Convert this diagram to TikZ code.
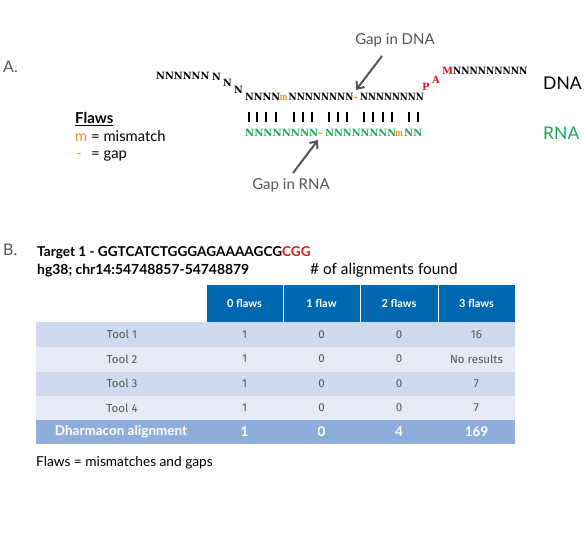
\documentclass[tikz,border=0pt]{standalone}
\usepackage{fontspec}
\usepackage{graphicx}
\setmainfont{Lato}
\newfontfamily\seqfont{DejaVu Serif}
\newfontfamily\tabfont{Fira Sans}
\usetikzlibrary{arrows.meta}
\definecolor{flawor}{RGB}{240,150,40}
\definecolor{rnagreen}{RGB}{25,170,90}
\definecolor{pamred}{RGB}{215,30,35}
\definecolor{txtgray}{RGB}{85,85,85}
\definecolor{arrgray}{RGB}{85,85,85}
\definecolor{hdrblue}{RGB}{0,103,177}
\definecolor{rowA}{RGB}{207,218,236}
\definecolor{rowB}{RGB}{229,234,245}
\definecolor{rowD}{RGB}{142,173,219}
\newcommand{\sqx}[2]{\scalebox{#1}[1]{#2}}
\tikzset{
  seq/.style={inner sep=0pt, anchor=base west, font=\seqfont\bfseries\fontsize{10}{10}\selectfont},
  lbl/.style={inner sep=0pt, anchor=base west},
  gaplbl/.style={inner sep=0pt, text=txtgray, font=\fontsize{15}{15}\selectfont},
  gaparrow/.style={draw=arrgray, line width=2pt, -{Straight Barb[length=6pt,width=10pt]}},
  pairbar/.style={line width=1.8pt, black},
  hdrcell/.style={fill=hdrblue, draw=white, line width=0.8pt},
  hdrtxt/.style={inner sep=0pt, text=white, font=\bfseries\fontsize{11}{11}\selectfont},
  celltxt/.style={inner sep=0pt, text=txtgray, font=\tabfont\fontsize{11.5}{11.5}\selectfont},
  dtxt/.style={inner sep=0pt, text=white, font=\bfseries\fontsize{13.5}{13.5}\selectfont},
}
\begin{document}
\begin{tikzpicture}[x=1pt,y=-1pt]
\useasboundingbox[fill=white] (0,0) rectangle (586,548);

% ---------- Part A ----------
\node[lbl, text=txtgray, font=\fontsize{16}{16}\selectfont] (labA) at (3,73) {A.};

% DNA strand
\node[seq] (d1) at (156,80) {\sqx{0.97}{NNNNNN}};
\node[seq] (d2) at (212,81) {\sqx{0.95}{N}};
\node[seq] (d3) at (223,87) {\sqx{0.95}{N}};
\node[seq] (d4) at (234,94) {\sqx{0.95}{N}};
\node[seq] (d5) at (245,101) {\sqx{0.955}{NNNN}};
\node[seq, text=flawor] (d6) at (279.5,101) {\sqx{0.75}{m}};
\node[seq] (d7) at (288.5,101) {\sqx{0.885}{NNNNNNNN}};
\node[seq, text=flawor] (d8) at (353,101) {–};
\node[seq] (d9) at (360,101) {\sqx{0.87}{NNNNNNNN}};
\node[seq, text=pamred] (pP) at (422,91) {P};
\node[seq, text=pamred] (pA) at (432,84) {A};
\node[seq, text=pamred] (pM) at (442,75) {M};
\node[seq] (d10) at (453,75) {\sqx{0.9}{NNNNNNNNN}};

% RNA strand
\node[seq, text=rnagreen] (r1) at (245,137) {NNNNNNNN};
\node[seq, text=flawor] (r2) at (317.5,137) {\sqx{1.1}{–}};
\node[seq, text=rnagreen] (r3) at (325,137) {\sqx{0.97}{NNNNNNNN}};
\node[seq, text=flawor] (r4) at (395,137) {\sqx{0.75}{m}};
\node[seq, text=rnagreen] (r5) at (404,137) {NN};

% base pairing bars
\foreach \bx in {249,257,266,276,294,303,312,329,338,347,364,373,383,392,409,418}
  \draw[pairbar] (\bx,112) -- (\bx,122);

% strand labels
\node[lbl, font=\fontsize{17.5}{17.5}\selectfont] (dnalbl) at (543,90) {DNA};
\node[lbl, text=rnagreen, font=\fontsize{17.5}{17.5}\selectfont] (rnalbl) at (543,140) {RNA};

% gap labels and arrows
\node[gaplbl] (gapdna) at (395,40) {Gap in DNA};
\coordinate (gapdnaS) at (382,56);
\coordinate (gapdnaT) at (356,90);
\draw[gaparrow] (gapdnaS) -- (gapdnaT);
\node[gaplbl] (gaprna) at (291,185) {Gap in RNA};
\coordinate (gaprnaS) at (293,173);
\coordinate (gaprnaT) at (318,140);
\draw[gaparrow] (gaprnaS) -- (gaprnaT);

% legend
\node[lbl, font=\bfseries\fontsize{15}{15}\selectfont] (flawsttl) at (75,124) {\underline{Flaws}};
\node[lbl, font=\fontsize{14.8}{14.8}\selectfont] (flawm) at (75,142) {\textcolor{flawor}{m} = mismatch};
\node[lbl, font=\fontsize{14.8}{14.8}\selectfont, text=flawor] (flawg) at (76,159) {-};
\node[lbl, font=\fontsize{14.8}{14.8}\selectfont] (flawgt) at (91,159) {= gap};

% ---------- Part B ----------
\node[lbl, text=txtgray, font=\fontsize{16}{16}\selectfont] (labB) at (3,255) {B.};
\node[lbl, font=\bfseries\fontsize{13.6}{13.6}\selectfont] (target) at (37,256) {Target 1 - GGTCATCTGGGAGAAAAGCG\textcolor{pamred}{CGG}};
\node[lbl, font=\bfseries\fontsize{13.9}{13.9}\selectfont] (hg) at (37,274) {hg38; chr14:54748857-54748879};
\node[lbl, font=\fontsize{15.4}{15.4}\selectfont] (nalign) at (310,274) {\# of alignments found};

% table header
\path[hdrcell] (206,284) rectangle (283,322);
\path[hdrcell] (283,284) rectangle (360,322);
\path[hdrcell] (360,284) rectangle (438,322);
\path[hdrcell] (438,284) rectangle (515,322);
\node[hdrtxt] (h0) at (244.5,303) {0 flaws};
\node[hdrtxt] (h1) at (321.5,303) {1 flaw};
\node[hdrtxt] (h2) at (399,303) {2 flaws};
\node[hdrtxt] (h3) at (476.5,303) {3 flaws};

% table rows
\fill[rowA] (36,322) rectangle (515,347);
\fill[rowB] (36,347) rectangle (515,371.5);
\fill[rowA] (36,371.5) rectangle (515,396);
\fill[rowB] (36,396) rectangle (515,420);
\fill[rowD] (36,420) rectangle (515,444);

\node[celltxt] (t1) at (122,334.5) {Tool 1};
\node[celltxt] (t1a) at (244.5,334.5) {1};
\node[celltxt] (t1b) at (321.5,334.5) {0};
\node[celltxt] (t1c) at (399,334.5) {0};
\node[celltxt] (t1d) at (476.5,334.5) {16};

\node[celltxt] (t2) at (122,359) {Tool 2};
\node[celltxt] (t2a) at (244.5,359) {1};
\node[celltxt] (t2b) at (321.5,359) {0};
\node[celltxt] (t2c) at (399,359) {0};
\node[celltxt] (t2d) at (476.5,359) {No results};

\node[celltxt] (t3) at (122,383.5) {Tool 3};
\node[celltxt] (t3a) at (244.5,383.5) {1};
\node[celltxt] (t3b) at (321.5,383.5) {0};
\node[celltxt] (t3c) at (399,383.5) {0};
\node[celltxt] (t3d) at (476.5,383.5) {7};

\node[celltxt] (t4) at (122,408) {Tool 4};
\node[celltxt] (t4a) at (244.5,408) {1};
\node[celltxt] (t4b) at (321.5,408) {0};
\node[celltxt] (t4c) at (399,408) {0};
\node[celltxt] (t4d) at (476.5,408) {7};

\node[dtxt] (dh) at (121,432) {Dharmacon alignment};
\node[dtxt] (dha) at (244.5,432) {1};
\node[dtxt] (dhb) at (321.5,432) {0};
\node[dtxt] (dhc) at (399,432) {4};
\node[dtxt] (dhd) at (476.5,432) {169};

\node[lbl, font=\fontsize{13.7}{13.7}\selectfont] (foot) at (36,466) {Flaws = mismatches and gaps};
\end{tikzpicture}
\end{document}
